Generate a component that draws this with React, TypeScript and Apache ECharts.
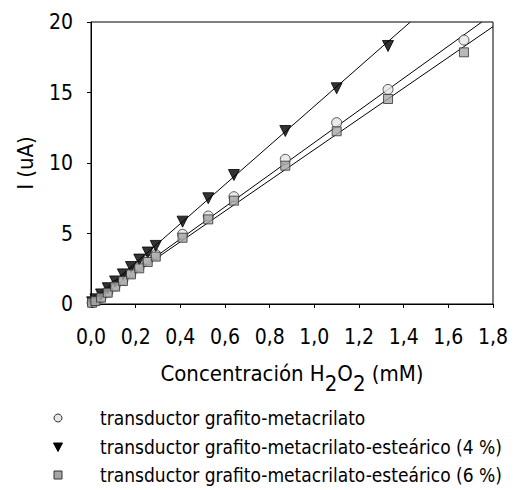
import React, { useEffect, useRef } from "react";
import * as echarts from "echarts";

// Concentración H2O2 (mM)
const conc = [0.005, 0.02, 0.045, 0.075, 0.108, 0.143, 0.179, 0.216, 0.254, 0.29, 0.41, 0.525, 0.64, 0.87, 1.1, 1.33, 1.67];
// I (uA)
const metacrilato = [0.1, 0.23, 0.48, 0.84, 1.3, 1.72, 2.2, 2.66, 3.12, 3.5, 4.94, 6.24, 7.61, 10.26, 12.86, 15.22, 18.72];
const estearico4 = [0.12, 0.33, 0.68, 1.12, 1.6, 2.1, 2.62, 3.15, 3.65, 4.12, 5.84, 7.5, 9.15, 12.27, 15.3, 18.3];
const estearico6 = [0.09, 0.21, 0.45, 0.8, 1.23, 1.63, 2.1, 2.53, 2.98, 3.36, 4.7, 6.0, 7.33, 9.81, 12.25, 14.54, 17.85];

// regression lines (end points)
const fitMetacrilato = [[0, 0.05], [1.75, 20]];
const fitEstearico4 = [[0, 0.14], [1.43, 20]];
const fitEstearico6 = [[0, 0.05], [1.8, 19.67]];

const names = [
  "transductor grafito-metacrilato",
  "transductor grafito-metacrilato-esteárico (4 %)",
  "transductor grafito-metacrilato-esteárico (6 %)",
];

const FONT = "'Liberation Sans Narrow', 'Arial Narrow', 'DejaVu Sans Condensed', 'Liberation Sans', sans-serif";

const circleStyle = { fill: "#e6e6e6", stroke: "#333", lineWidth: 1 };
const triStyle = { fill: "#000", stroke: "#000", lineWidth: 1 };
const rectStyle = { fill: "#a6a6a6", stroke: "#333", lineWidth: 1 };

export default function App() {
  const ref = useRef<HTMLDivElement>(null);
  useEffect(() => {
    if (!ref.current) return;
    const chart = echarts.init(ref.current, undefined, { renderer: "svg" });
    const pts = (ys: number[]) => ys.map((y, i) => [conc[i], y]);
    const fitLine = (d: number[][]) => ({
      type: "line",
      data: d,
      showSymbol: false,
      symbol: "none",
      lineStyle: { color: "#000", width: 1 },
      silent: true,
      z: 1,
    });

    // legend drawn as graphic rows
    const legX = 58;
    const textX = 100;
    const rowY = [418, 447, 475];
    const icons: any[] = [
      { type: "circle", shape: { cx: legX, cy: rowY[0], r: 4 }, style: circleStyle },
      {
        type: "polygon",
        shape: { points: [[legX - 4.5, rowY[1] - 4], [legX + 4.5, rowY[1] - 4], [legX, rowY[1] + 4.5]] },
        style: triStyle,
      },
      { type: "rect", shape: { x: legX - 4, y: rowY[2] - 4, width: 8, height: 8 }, style: rectStyle },
    ];
    const texts = names.map((n, i) => ({
      type: "text",
      x: textX,
      y: rowY[i],
      style: { text: n, font: `19px ${FONT}`, fill: "#000", verticalAlign: "middle", align: "left" },
    }));

    chart.setOption({
      animation: false,
      backgroundColor: "#fff",
      textStyle: { fontFamily: FONT },
      grid: { left: 91, right: 21, top: 22, bottom: 186, show: true, borderColor: "#000", borderWidth: 1 },
      xAxis: {
        type: "value",
        min: 0,
        max: 1.8,
        interval: 0.2,
        splitLine: { show: false },
        axisLine: { lineStyle: { color: "#000" } },
        axisTick: { length: 4, lineStyle: { color: "#000" } },
        axisLabel: {
          color: "#000",
          fontSize: 21,
          fontFamily: FONT,
          margin: 22,
          formatter: (v: number) => v.toFixed(1).replace(".", ","),
        },
        nameLocation: "middle",
        nameGap: 57,
        name: "{a|Concentración H}{s|2}{a|O}{s|2}{a| (mM)}",
        nameTextStyle: {
          rich: {
            a: { fontSize: 22, fontFamily: FONT, color: "#000", lineHeight: 24 },
            s: { fontSize: 22, fontFamily: FONT, color: "#000", lineHeight: 24, padding: [20, 0, 0, 0] },
          },
        },
      },
      yAxis: {
        type: "value",
        min: 0,
        max: 20,
        interval: 5,
        splitLine: { show: false },
        axisLine: { lineStyle: { color: "#000" } },
        axisTick: { length: 4, lineStyle: { color: "#000" } },
        axisLabel: { color: "#000", fontSize: 21, fontFamily: FONT, margin: 18 },
        name: "I (uA)",
        nameLocation: "middle",
        nameRotate: 90,
        nameGap: 55,
        nameTextStyle: { fontSize: 22, fontFamily: FONT, color: "#000" },
      },
      graphic: [...icons, ...texts],
      series: [
        fitLine(fitMetacrilato),
        fitLine(fitEstearico4),
        fitLine(fitEstearico6),
        {
          name: names[0],
          type: "scatter",
          data: pts(metacrilato),
          symbol: "circle",
          symbolSize: 10,
          itemStyle: { color: "#e6e6e6", borderColor: "#333", borderWidth: 1 },
          z: 2,
        },
        {
          name: names[1],
          type: "scatter",
          data: pts(estearico4),
          symbol: "triangle",
          symbolRotate: 180,
          symbolSize: 11,
          itemStyle: { color: "#000", borderColor: "#000", borderWidth: 1 },
          z: 3,
        },
        {
          name: names[2],
          type: "scatter",
          data: pts(estearico6),
          symbol: "rect",
          symbolSize: 9,
          itemStyle: { color: "#a6a6a6", borderColor: "#333", borderWidth: 1 },
          z: 4,
        },
      ],
    });
    return () => chart.dispose();
  }, []);
  return <div ref={ref} style={{ position: "fixed", left: 0, top: 0, width: 514, height: 490 }} />;
}
